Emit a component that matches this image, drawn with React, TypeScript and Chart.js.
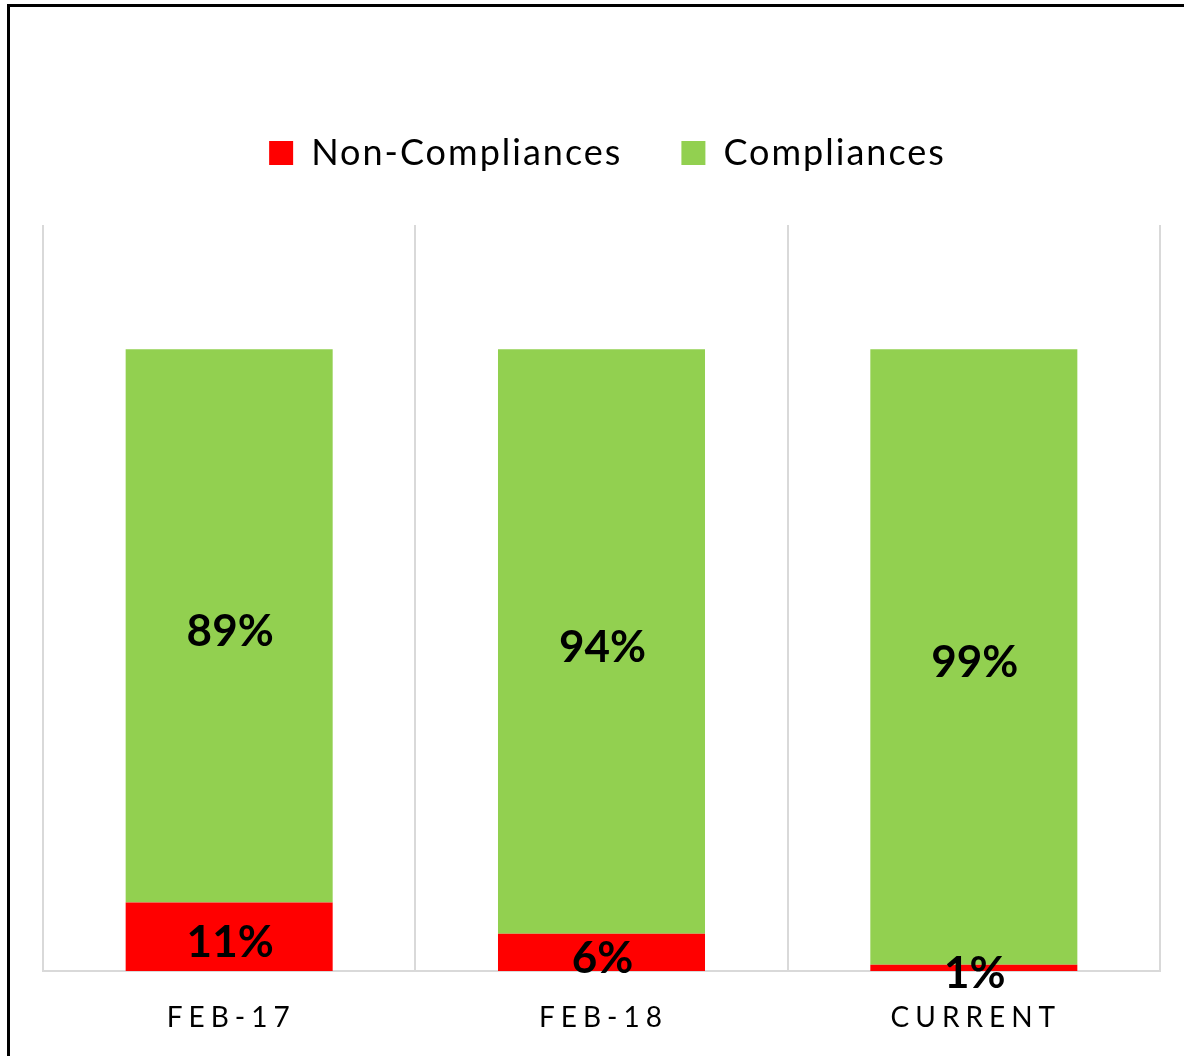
import React, { useEffect, useRef } from 'react';
import { Chart, registerables } from 'chart.js';

Chart.register(...registerables);

const categories = ['FEB-17', 'FEB-18', 'CURRENT'];
const nonCompliances = [11, 6, 1];
const compliances = [89, 94, 99];
const seriesNames = ['Non-Compliances', 'Compliances'];
const yMax = 120;

const FONT = 'Lato, "Open Sans", sans-serif';
const TICK_SPACING = 6;
const LEGEND_SPACING = '2px';

export default function App() {
  const ref = useRef<HTMLCanvasElement>(null);

  useEffect(() => {
    if (!ref.current) return;

    const legendTweaks = {
      id: 'legendTweaks',
      beforeInit(chart: any) {
        const legend = chart.legend;
        if (!legend) return;
        const orig = legend.fit;
        legend.fit = function () {
          orig.call(this);
          this.height += 44;
        };
      },
      beforeLayout(chart: any) {
        chart.ctx.letterSpacing = LEGEND_SPACING;
      },
      afterLayout(chart: any) {
        chart.ctx.letterSpacing = '0px';
        if (chart.legend) {
          chart.legend.left += 6;
          chart.legend.right += 6;
        }
      },
      beforeDraw(chart: any) {
        chart.ctx.letterSpacing = LEGEND_SPACING;
      },
      beforeDatasetsDraw(chart: any) {
        chart.ctx.letterSpacing = '0px';
      },
    };

    const labelPlugin = {
      id: 'valueLabels',
      afterDatasetsDraw(chart: any) {
        const ctx = chart.ctx;
        ctx.save();
        ctx.letterSpacing = '0px';
        ctx.font = `bold 44px ${FONT}`;
        ctx.fillStyle = '#000';
        ctx.textAlign = 'center';
        ctx.textBaseline = 'middle';
        chart.data.datasets.forEach((ds: any, di: number) => {
          const meta = chart.getDatasetMeta(di);
          meta.data.forEach((el: any, i: number) => {
            const { x, y, base } = el.getProps(['x', 'y', 'base'], true);
            ctx.fillText(`${ds.data[i]}%`, x + 1, (y + base) / 2 + 6);
          });
        });
        const xs = chart.scales.x;
        ctx.font = `28px ${FONT}`;
        ctx.fillStyle = '#000';
        ctx.textAlign = 'left';
        categories.forEach((c, i) => {
          ctx.letterSpacing = '0px';
          const w = ctx.measureText(c).width + TICK_SPACING * (c.length - 1);
          ctx.letterSpacing = `${TICK_SPACING}px`;
          ctx.fillText(c, xs.getPixelForValue(i) - w / 2 - 1, chart.chartArea.bottom + 47);
        });
        ctx.letterSpacing = '0px';
        ctx.restore();
      },
    };

    const chart = new Chart(ref.current, {
      type: 'bar',
      data: {
        labels: categories,
        datasets: [
          {
            label: seriesNames[0],
            data: nonCompliances,
            backgroundColor: '#FF0000',
            categoryPercentage: 1,
            barPercentage: 0.556,
          },
          {
            label: seriesNames[1],
            data: compliances,
            backgroundColor: '#92D050',
            categoryPercentage: 1,
            barPercentage: 0.556,
          },
        ],
      },
      options: {
        responsive: false,
        animation: false,
        devicePixelRatio: 1,
        layout: { padding: { top: 76, left: 43, right: 24, bottom: 85 } },
        scales: {
          x: {
            stacked: true,
            grid: { color: '#d9d9d9', lineWidth: 2, drawTicks: false, offset: true },
            border: { color: '#d9d9d9', width: 2 },
            ticks: { display: false },
          },
          y: {
            stacked: true,
            display: false,
            min: 0,
            max: yMax,
          },
        },
        plugins: {
          legend: {
            position: 'top',
            labels: {
              boxWidth: 24,
              boxHeight: 24,
              padding: 59,
              color: '#000',
              font: { size: 36, family: FONT },
            },
          },
          tooltip: { enabled: false },
        },
      },
      plugins: [legendTweaks, labelPlugin],
    });

    return () => chart.destroy();
  }, []);

  return (
    <div style={{ position: 'fixed', left: 0, top: 0, width: 1184, height: 1056, background: '#fff', overflow: 'hidden' }}>
      <canvas ref={ref} width={1184} height={1056} style={{ position: 'absolute', left: 0, top: 0 }} />
      <div
        style={{
          position: 'absolute',
          left: 7,
          top: 4,
          width: 1200,
          height: 1100,
          borderTop: '3px solid #000',
          borderLeft: '3px solid #000',
          pointerEvents: 'none',
        }}
      />
    </div>
  );
}
